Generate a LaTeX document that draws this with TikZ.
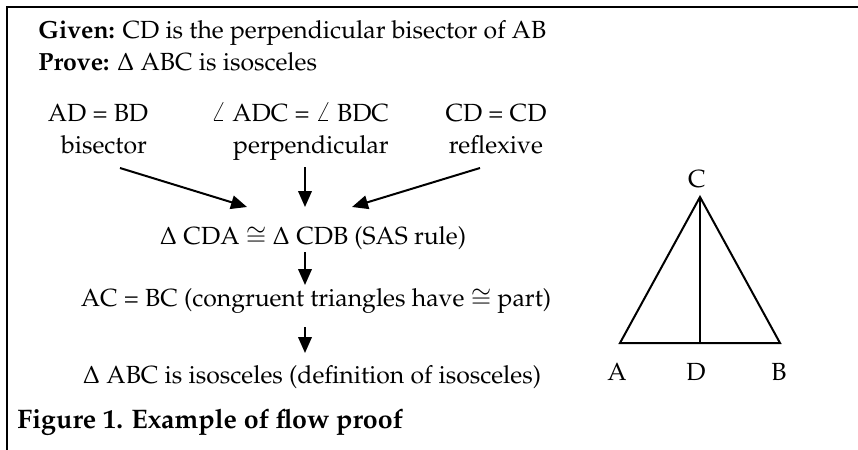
\documentclass[tikz,border=0pt]{standalone}
\usepackage[T1]{fontenc}
\usepackage{mathpazo}
\usetikzlibrary{arrows.meta}
\tikzset{
  stmt/.style={font=\fontsize{12.4}{15}\selectfont,inner sep=0pt,anchor=base},
  lead/.style={stmt,anchor=base west},
  caption/.style={font=\bfseries\fontsize{13.4}{16}\selectfont,inner sep=0pt,anchor=base west},
  arr/.style={-{Triangle[length=8pt,width=6.8pt]},line width=1pt},
  rule/.style={line width=1pt},
  edge/.style={line width=1pt,line join=miter},
}

\begin{document}
\begin{tikzpicture}[x=0.5pt,y=-0.5pt]
\path[use as bounding box] (0,0) rectangle (858,450);
\draw[rule] (7,450) -- (7,7) -- (858,7);

% given / prove
\node[lead] (given) at (38,38) {\textbf{Given:} CD is the perpendicular bisector of AB};
\node[lead] (prove) at (38,70) {\textbf{Prove:} $\Delta$ ABC is isosceles};

% reasons
\node[stmt] (adbd) at (98,121) {AD = BD};
\node[stmt] (bis) at (104,153) {bisector};
\node[stmt] (ang) at (300,121) {$\angle$ ADC = $\angle$ BDC};
\node[stmt] (perp) at (311,153) {perpendicular};
\node[stmt] (cdcd) at (496,121) {CD = CD};
\node[stmt] (refl) at (496,153) {reflexive};

% chain of statements
\node[stmt] (sas) at (313,244) {$\Delta$ CDA $\cong$ $\Delta$ CDB (SAS rule)};
\node[stmt] (acbc) at (316,306) {AC = BC (congruent triangles have $\cong$ part)};
\node[stmt] (isos) at (312,383) {$\Delta$ ABC is isosceles (definition of isosceles)};

\draw[arr] ([shift={(16,15)}]bis.base) -- ([shift={(-66,-37)}]sas.base);
\draw[arr] ([shift={(-6,14)}]perp.base) -- ([shift={(-8,-37)}]sas.base);
\draw[arr] ([shift={(-16,15)}]refl.base) -- ([shift={(39,-37)}]sas.base);
\draw[arr] ([shift={(-8,8)}]sas.base) -- ([shift={(-11,-21)}]acbc.base);
\draw[arr] ([shift={(-11,21)}]acbc.base) -- ([shift={(-7,-30)}]isos.base);

% triangle
\coordinate (A) at (620,343);
\coordinate (B) at (780,343);
\coordinate (C) at (700,197);
\coordinate (D) at (700,343);
\draw[edge] (A) -- (C) -- (B) -- cycle;
\draw[edge] (C) -- (D);
\node[stmt] (lc) at (697,187) {C};
\node[stmt] (la) at (617,380) {A};
\node[stmt] (ld) at (696,380) {D};
\node[stmt] (lb) at (779,380) {B};

\node[caption] (cap) at (17,428) {Figure 1. Example of flow proof};
\end{tikzpicture}
\end{document}
